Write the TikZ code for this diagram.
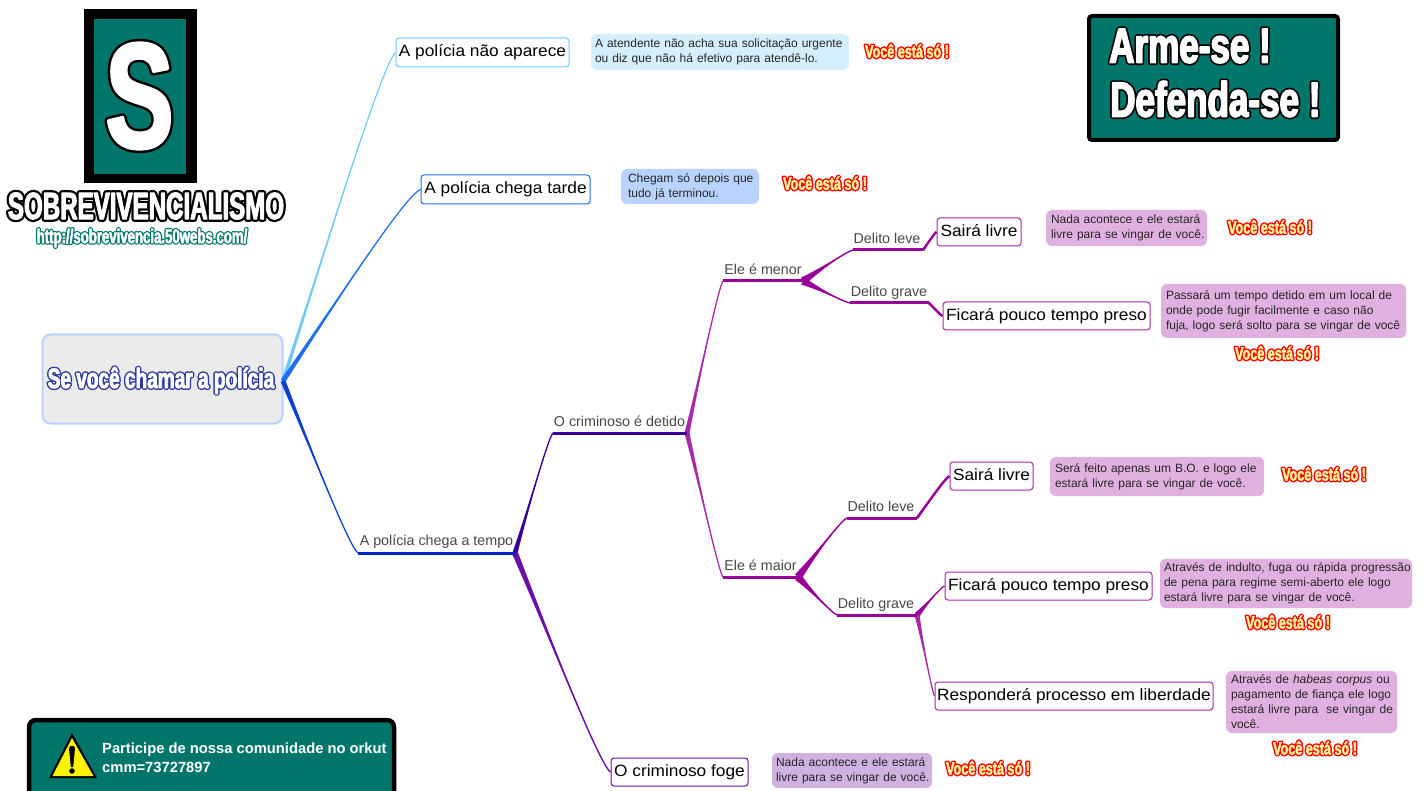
\documentclass[tikz,border=0pt]{standalone}
\usepackage{fontspec}
\usepackage{graphicx}
\usetikzlibrary{calc}
\setmainfont{Liberation Sans}
\newfontfamily\impf[FakeStretch=.68]{Liberation Sans}
\newfontfamily\impS[FakeStretch=.68]{Liberation Sans}
\newfontfamily\impT[FakeStretch=.635]{Liberation Sans}
\newfontfamily\impU[FakeStretch=.66]{Liberation Sans}
\newfontfamily\impA[FakeStretch=.715]{Liberation Sans}
\newfontfamily\impV[FakeStretch=.7]{Liberation Sans}
\newfontfamily\topf[FakeStretch=1.06]{Liberation Sans}
\definecolor{teal}{HTML}{00756A}
\definecolor{cA}{HTML}{70C8FF}
\definecolor{cB}{HTML}{1F6FEF}
\definecolor{cC}{HTML}{0A3FCF}
\definecolor{cD}{HTML}{0026C8}
\definecolor{cE}{HTML}{3A0099}
\definecolor{cF}{HTML}{6A10A8}
\definecolor{cG}{HTML}{990099}
\definecolor{cH}{HTML}{A828A8}
\definecolor{nA}{HTML}{D6EFFF}
\definecolor{nB}{HTML}{B8D3FF}
\definecolor{nC}{HTML}{E0B0E0}
\definecolor{nD}{HTML}{CFB2E0}
\definecolor{yel}{HTML}{FFF29A}
\definecolor{navy}{HTML}{2F3A9E}
\newcommand\outl[5]{\leavevmode\rlap{\color{#1}\special{pdf:code #3 w 2 Tr 1 j}#5\special{pdf:code 0 Tr}}{\color{#2}\special{pdf:code #4 w 2 Tr 1 j}#5\special{pdf:code 0 Tr}}}
\newcommand\sozinho[2]{\node[inner sep=0pt,font=\impV\bfseries\fontsize{18}{18}\selectfont] (#1) at (#2) {\outl{red}{yel}{3.4}{.45}{Você está só !}};}
\newcommand\ml[1]{\mbox{#1}}
\newcommand\branch[5][1.1]{%
  \path let \p1=(#3),\p2=(#4),\n1={\x2-\x1},\n2={\y2-\y1} in
    coordinate (ca) at (\x1+.34*\n1,\y1+.36*\n2)
    coordinate (cb) at (\x1+.88*\n1,\y1+.965*\n2);
  \coordinate (su) at ($(#3)!#5pt!90:(#4)$);
  \coordinate (sd) at ($(#3)!#5pt!-90:(#4)$);
  \coordinate (cu) at ($(ca)!.2*#5pt!90:(#4)$);
  \coordinate (cd) at ($(ca)!.2*#5pt!-90:(#4)$);
  \fill[#2] (su) .. controls (cu) and (cb) .. (#4) .. controls (cb) and (cd) .. (sd) -- cycle;
  \draw[#2,line width=#1pt] (#3) .. controls (ca) and (cb) .. (#4);
}
\tikzset{
  x=1pt,y=-1pt,
  topic/.style={draw=#1,line width=1pt,fill=white,rounded corners=3pt,inner sep=0pt,text height=11.5pt,text depth=2.6pt,font=\topf\fontsize{16.3}{18}\selectfont,text=black},
  note/.style={fill=#1,rounded corners=6pt,inner sep=4pt,align=left,font=\fontsize{12}{15}\selectfont,text=black!85},
  lbl/.style={inner sep=0pt,text height=10pt,text depth=3pt,yshift=-1.2pt,font=\fontsize{14.3}{15}\selectfont,text=black!72},
  bar/.style={line width=3pt,draw=#1}
}
\begin{document}
\begin{tikzpicture}
\useasboundingbox (0,0) rectangle (1424,791);
% logo
\fill[black] (84,9) rectangle (197,183);
\fill[teal] (94,19) rectangle (186,174);
\node[inner sep=0pt,font=\impS\bfseries\fontsize{150}{150}\selectfont] (logoS) at (139.5,96) {\outl{black}{white}{8}{3}{S}};
\node[inner sep=0pt,font=\impT\bfseries\fontsize{38}{38}\selectfont] (logoT) at (146,206) {\outl{black}{white}{5.5}{1}{SOBREVIVENCIALISMO}};
\node[inner sep=0pt,font=\impU\bfseries\fontsize{20}{20}\selectfont] (url) at (142,238) {\outl{teal}{white}{3}{.5}{http://sobrevivencia.50webs.com/}};
% arme-se
\node[draw=black,line width=4pt,fill=teal,rounded corners=3pt,minimum width=249pt,minimum height=124pt,inner sep=0pt,outer sep=0pt] (arme) at (1213.5,78) {};
\node[inner sep=0pt,anchor=west,font=\impA\bfseries\fontsize{49}{49}\selectfont] (armeA) at (1109,46) {\outl{black}{white}{5}{1.6}{Arme-se !}};
\node[inner sep=0pt,anchor=west,font=\impA\bfseries\fontsize{49}{49}\selectfont] (armeB) at (1110,99) {\outl{black}{white}{5}{1.6}{Defenda-se !}};
% orkut
\node[draw=black,line width=4.5pt,fill=teal,rounded corners=7pt,minimum width=365pt,minimum height=100pt,inner sep=0pt,outer sep=0pt,anchor=north west] (ork) at (29,720) {};
\fill[black] (72,733) -- (49,778) -- (97,778) -- cycle;
\fill[yellow] (72,738) -- (52.5,776) -- (93.5,776) -- cycle;
\fill[black] (69,748) .. controls (70,745) and (74,745) .. (75,748) -- (73.2,767) -- (70.8,767) -- cycle;
\fill[black] (72,771) circle (2.8pt);
\node[inner sep=0pt,align=left,anchor=west,text=white,font=\bfseries\fontsize{14.75}{19}\selectfont] (orkT) at (102,757.5) {Participe de nossa comunidade no orkut\\cmm=73727897};
% root
\node[draw=nB,line width=2pt,fill=black!8,rounded corners=8pt,minimum width=240pt,minimum height=89pt,inner sep=0pt] (root) at (162.5,379) {};
\node[inner sep=0pt,font=\impf\bfseries\fontsize{28}{28}\selectfont] (rootT) at (161,380.5) {\outl{navy}{white}{3.6}{.8}{Se você chamar a polícia}};
% topics
\node[topic=cA,minimum width=173pt,minimum height=29pt] (t1) at (482.5,52.5) {A polícia não aparece};
\node[topic=cB,minimum width=169pt,minimum height=29pt] (t2) at (505.5,189.5) {A polícia chega tarde};
\node[topic=cF,minimum width=137pt,minimum height=28pt] (t3) at (679.5,772) {O criminoso foge};
\node[topic=cH,minimum width=84pt,minimum height=28pt] (s1) at (979,232) {Sairá livre};
\node[topic=cH,minimum width=207pt,minimum height=28pt] (f1) at (1046.5,316) {Ficará pouco tempo preso};
\node[topic=cH,minimum width=83pt,minimum height=28pt] (s2) at (991.5,476) {Sairá livre};
\node[topic=cH,minimum width=207pt,minimum height=28pt] (f2) at (1048.5,586) {Ficará pouco tempo preso};
\node[topic=cH,minimum width=278pt,minimum height=28pt] (r1) at (1074,696) {Responderá processo em liberdade};
% junctions
\coordinate (rootOut) at (283,381);
\coordinate (a1) at (358,553); \coordinate (a2) at (515,553);
\coordinate (b1) at (553,433); \coordinate (b2) at (687,433);
\coordinate (c1) at (723,281); \coordinate (c2) at (803,281);
\coordinate (d1) at (723,577); \coordinate (d2) at (798,577);
\coordinate (e1) at (853,250); \coordinate (e2) at (923,250);
\coordinate (g1) at (850,303); \coordinate (g2) at (929,303);
\coordinate (h1) at (847,518); \coordinate (h2) at (917,518);
\coordinate (i1) at (837,615); \coordinate (i2) at (917,615);
% branches
\branch{cA}{rootOut}{t1.west}{2}
\branch[1.2]{cB}{rootOut}{t2.west}{2.5}
\branch[1.2]{cC}{rootOut}{a1}{2.5}
\branch[1.3]{cE}{a2}{b1}{2.5}
\branch[1.4]{cF}{a2}{t3.west}{3}
\branch[1.2]{cH}{b2}{c1}{2.5}
\branch[1.2]{cH}{b2}{d1}{2.5}
\branch[1.4]{cG}{c2}{e1}{4}
\branch[1.4]{cG}{c2}{g1}{4}
\branch[1.4]{cG}{d2}{h1}{4}
\branch[1.4]{cG}{d2}{i1}{4}
\branch[2.4]{cG}{e2}{s1.west}{1.4}
\branch[2.4]{cG}{g2}{f1.west}{1.4}
\branch[2.4]{cG}{h2}{s2.west}{1.4}
\branch[1.2]{cG}{i2}{f2.west}{3}
\branch[1.2]{cH}{i2}{r1.west}{2.5}
% bars
\draw[bar=cD] (a1) -- (a2);
\draw[bar=cE] (b1) -- (b2);
\draw[bar=cG] (c1) -- (c2);
\draw[bar=cG] (d1) -- (d2);
\draw[bar=cG] (e1) -- (e2);
\draw[bar=cG] (g1) -- (g2);
\draw[bar=cG] (h1) -- (h2);
\draw[bar=cG] (i1) -- (i2);
% labels
\node[lbl] (la) at (436.5,541) {A polícia chega a tempo};
\node[lbl] (lb) at (619.5,421.5) {O criminoso é detido};
\node[lbl] (lc) at (763,270) {Ele é menor};
\node[lbl] (ld) at (760.5,565.5) {Ele é maior};
\node[lbl] (le) at (887,239) {Delito leve};
\node[lbl] (lg) at (889,291.5) {Delito grave};
\node[lbl] (lh) at (881,507) {Delito leve};
\node[lbl] (li) at (876,604) {Delito grave};
% notes
\node[note=nA,text width=250pt,minimum height=36pt] (n1) at (720,52) {\ml{A atendente não acha sua solicitação urgente}\\\ml{ou diz que não há efetivo para atendê-lo.}};
\node[note=nB,inner xsep=7pt,text width=124pt,minimum height=35pt] (n2) at (690,186.5) {\ml{Chegam só depois que}\\\ml{tudo já terminou.}};
\node[note=nC,inner xsep=5pt,text width=151pt,minimum height=36pt] (n3) at (1126.5,228) {\ml{Nada acontece e ele estará}\\\ml{livre para se vingar de você.}};
\node[note=nC,inner xsep=5pt,text width=235pt,minimum height=54pt] (n4) at (1283.5,311) {\ml{Passará um tempo detido em um local de}\\\ml{onde pode fugir facilmente e caso não}\\\ml{fuja, logo será solto para se vingar de você}};
\node[note=nC,inner xsep=5pt,text width=204pt,minimum height=39pt] (n5) at (1157,476.5) {\ml{Será feito apenas um B.O. e logo ele}\\\ml{estará livre para se vingar de você.}};
\node[note=nC,text width=244pt,minimum height=49pt] (n6) at (1286,583.5) {\ml{Através de indulto, fuga ou rápida progressão}\\\ml{de pena para regime semi-aberto ele logo}\\\ml{estará livre para se vingar de você.}};
\node[note=nC,inner xsep=5pt,text width=161pt,minimum height=62pt] (n7) at (1311.5,702) {\ml{Através de \textit{habeas corpus} ou}\\\ml{pagamento de fiança ele logo}\\\ml{estará livre para\ \ se vingar de}\\\ml{você.}};
\node[note=nD,text width=152pt,minimum height=35pt] (n8) at (852,770.5) {\ml{Nada acontece e ele estará}\\\ml{livre para se vingar de você.}};
% warnings
\sozinho{v1}{907,51}
\sozinho{v2}{825,183}
\sozinho{v3}{1270,227}
\sozinho{v4}{1277,353}
\sozinho{v5}{1324,474}
\sozinho{v6}{1288,622}
\sozinho{v7}{1315,748}
\sozinho{v8}{988,768}
\end{tikzpicture}
\end{document}
